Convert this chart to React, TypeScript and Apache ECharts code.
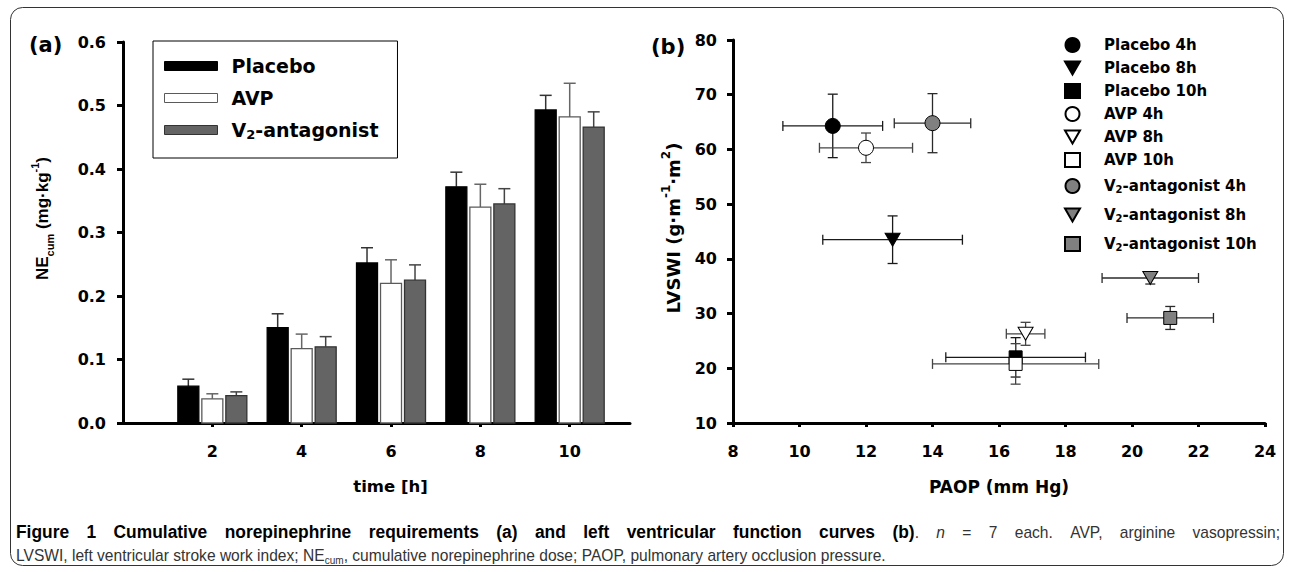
import React, { useEffect, useRef } from 'react';
import * as echarts from 'echarts';

// ---------- data: panel (a) ----------
const times = [2, 4, 6, 8, 10];
const timeTicks = [2, 4, 6, 8, 10];
const barGroups = ['Placebo', 'AVP', 'V2-antagonist'];
const placeboMean = [0.058, 0.150, 0.252, 0.372, 0.493];
const placeboSd = [0.011, 0.022, 0.024, 0.023, 0.023];
const avpMean = [0.038, 0.117, 0.220, 0.340, 0.482];
const avpSd = [0.008, 0.023, 0.037, 0.036, 0.053];
const v2Mean = [0.043, 0.120, 0.225, 0.345, 0.466];
const v2Sd = [0.006, 0.016, 0.024, 0.024, 0.024];

// ---------- data: panel (b) ----------
const scatterNames = [
  'Placebo 4h', 'Placebo 8h', 'Placebo 10h',
  'AVP 4h', 'AVP 8h', 'AVP 10h',
  'V2-antagonist 4h', 'V2-antagonist 8h', 'V2-antagonist 10h',
];
const paop = [11.0, 12.8, 16.5, 12.0, 16.8, 16.5, 14.0, 20.55, 21.15];
const paopSd = [1.5, 2.1, 2.1, 1.4, 0.58, 2.5, 1.15, 1.45, 1.3];
const lvswi = [64.3, 43.5, 22.0, 60.3, 26.3, 20.8, 64.8, 36.5, 29.2];
const lvswiSd = [5.8, 4.35, 3.6, 2.7, 2.1, 3.7, 5.4, 1.1, 2.1];

// ---------- caption ----------
const captionTitle = 'Figure 1 Cumulative norepinephrine requirements (a) and left ventricular function curves (b)';
const captionTail = ['n', '=', '7', 'each.', 'AVP,', 'arginine', 'vasopressin;'];
const captionLine2a = 'LVSWI, left ventricular stroke work index; NE';
const captionLine2sub = 'cum';
const captionLine2b = ', cumulative norepinephrine dose; PAOP, pulmonary artery occlusion pressure.';

// ---------- styles ----------
const FONT = 'DejaVu Sans, Liberation Sans, sans-serif';
const FONT_ARIAL = 'Liberation Sans, Arial, sans-serif';
const CAP_FONT = 'Liberation Sans, Arial, sans-serif';
const CAP_SIZE = 17;
const CAP_BOLD_SIZE = 19;
const LINE2_WIDTH = 870;
const LINE1_WIDTH = 1264;

const BAR_W = 21;
const BAR_GAP = 3;
const CAP = 6;
const barFill = ['#000000', '#ffffff', '#646464'];
const barStroke = ['#000000', '#5a5a5a', '#333333'];
const barErr = ['#333333', '#666666', '#444444'];

const markerFill = ['#000000', '#ffffff', '#808080'];
const markerErr = ['#1a1a1a', '#444444', '#2a2a2a'];
const TRI_DOWN = 'path://M0,0L16,0L8,14Z';
const markerSymbols = ['circle', TRI_DOWN, 'rect'];
const markerSizes: any[] = [15, [15, 13], 13];

function v2Rich(name: string) {
  return name.startsWith('V2') ? `{n|V}{s|2}{n|${name.slice(2)}}` : `{n|${name}}`;
}

function buildCaption(): any[] {
  const canvas = document.createElement('canvas');
  const ctx = canvas.getContext('2d') as CanvasRenderingContext2D;
  const sizeOf = (st: string) => (st === 'b' ? CAP_BOLD_SIZE : CAP_SIZE);
  const fontStr = (st: string, size: number) =>
    `${st === 'i' ? 'italic ' : ''}${st === 'b' ? 'bold ' : ''}${size}px ${CAP_FONT}`;
  const meas = (t: string, st: string, size = sizeOf(st)) => {
    ctx.font = fontStr(st, size);
    return ctx.measureText(t).width;
  };
  const w2 = meas(captionLine2a, 'r') + meas(captionLine2sub, 'r', 11) + meas(captionLine2b, 'r');
  const sx = LINE2_WIDTH / w2;

  const words: [string, string][][] = captionTitle.split(' ').map((w) => [[w, 'b']]);
  words[words.length - 1].push(['.', 'r']);
  captionTail.forEach((w) => words.push([[w, w === 'n' ? 'i' : 'r']]));
  const widths = words.map((parts) => parts.reduce((s, [t, st]) => s + meas(t, st) * sx, 0));
  const left = 16;
  const total = widths.reduce((a, b) => a + b, 0);
  const gap = (LINE1_WIDTH - total) / (words.length - 1);
  const els: any[] = [];
  let x = left;
  words.forEach((parts, wi) => {
    let px = x;
    parts.forEach(([t, st]) => {
      els.push({
        type: 'text',
        x: px,
        y: 532,
        scaleX: sx,
        style: {
          text: t,
          fontFamily: CAP_FONT,
          fontSize: sizeOf(st),
          fontWeight: st === 'b' ? 'bold' : 'normal',
          fontStyle: st === 'i' ? 'italic' : 'normal',
          fill: st === 'b' ? '#000' : '#333',
          verticalAlign: 'middle',
          align: 'left',
        },
      });
      px += meas(t, st) * sx;
    });
    x += widths[wi] + gap;
  });
  els.push({
    type: 'text',
    x: left,
    y: 555,
    scaleX: sx,
    style: {
      text: `{r|${captionLine2a}}{s|${captionLine2sub}}{r|${captionLine2b}}`,
      verticalAlign: 'middle',
      align: 'left',
      rich: {
        r: { fontFamily: CAP_FONT, fontSize: CAP_SIZE, lineHeight: 20, fill: '#333', color: '#333' },
        s: { fontFamily: CAP_FONT, fontSize: 11, lineHeight: 10, verticalAlign: 'bottom', fill: '#333', color: '#333' },
      },
    },
  });
  return els;
}

export default function App() {
  const ref = useRef<HTMLDivElement>(null);

  useEffect(() => {
    if (!ref.current) return;
    const chart = echarts.init(ref.current, undefined, { renderer: 'svg' });

    const means = [placeboMean, avpMean, v2Mean];
    const sds = [placeboSd, avpSd, v2Sd];

    const tickLabel = { fontFamily: FONT, fontWeight: 'bold', fontSize: 16, color: '#000' };
    const axisLine = { show: true, onZero: false, lineStyle: { color: '#000', width: 3 } };

    const barSeries = barGroups.map((g, gi) => ({
      type: 'custom',
      name: g,
      xAxisIndex: 0,
      yAxisIndex: 0,
      itemStyle: { color: barFill[gi], borderColor: barStroke[gi] },
      data: times.map((t, i) => [t, means[gi][i], sds[gi][i]]),
      encode: { x: 0, y: 1 },
      renderItem: (params: any, api: any) => {
        const t = api.value(0);
        const m = api.value(1);
        const sd = api.value(2);
        const base = api.coord([t, 0]);
        const top = api.coord([t, m]);
        const errTop = api.coord([t, m + sd]);
        const cx = base[0] + (gi - 1) * (BAR_W + BAR_GAP);
        const es = { stroke: barErr[gi], lineWidth: 1.5 };
        return {
          type: 'group',
          children: [
            { type: 'line', shape: { x1: cx, y1: top[1], x2: cx, y2: errTop[1] }, style: es },
            { type: 'line', shape: { x1: cx - CAP, y1: errTop[1], x2: cx + CAP, y2: errTop[1] }, style: es },
            {
              type: 'rect',
              shape: { x: cx - BAR_W / 2, y: top[1], width: BAR_W, height: base[1] - top[1] },
              style: { fill: barFill[gi], stroke: barStroke[gi], lineWidth: 1.3 },
            },
          ],
        };
      },
    }));

    const errSeries = {
      type: 'custom',
      name: 'errors',
      xAxisIndex: 1,
      yAxisIndex: 1,
      data: scatterNames.map((n, i) => [paop[i], lvswi[i], paopSd[i], lvswiSd[i], Math.floor(i / 3)]),
      encode: { x: 0, y: 1 },
      renderItem: (params: any, api: any) => {
        const x = api.value(0);
        const y = api.value(1);
        const xs = api.value(2);
        const ys = api.value(3);
        const gi = api.value(4);
        const c = api.coord([x, y]);
        const l = api.coord([x - xs, y]);
        const r = api.coord([x + xs, y]);
        const t = api.coord([x, y + ys]);
        const b = api.coord([x, y - ys]);
        const st = { stroke: markerErr[gi], lineWidth: 1.3 };
        const line = (x1: number, y1: number, x2: number, y2: number) => ({
          type: 'line',
          shape: { x1, y1, x2, y2 },
          style: st,
        });
        return {
          type: 'group',
          children: [
            line(l[0], c[1], r[0], c[1]),
            line(l[0], c[1] - 5, l[0], c[1] + 5),
            line(r[0], c[1] - 5, r[0], c[1] + 5),
            line(c[0], t[1], c[0], b[1]),
            line(c[0] - 5, t[1], c[0] + 5, t[1]),
            line(c[0] - 5, b[1], c[0] + 5, b[1]),
          ],
        };
      },
    };

    const scatterSeries = scatterNames.map((n, i) => ({
      type: 'scatter',
      name: n,
      xAxisIndex: 1,
      yAxisIndex: 1,
      symbol: markerSymbols[i % 3],
      symbolSize: markerSizes[i % 3],
      itemStyle: { color: markerFill[Math.floor(i / 3)], borderColor: '#000', borderWidth: 1, opacity: 1 },
      data: [[paop[i], lvswi[i]]],
    }));

    const option: any = {
      animation: false,
      backgroundColor: '#fff',
      grid: [
        { left: 123, top: 42, width: 507, height: 381 },
        { left: 733, top: 40, width: 532, height: 383 },
      ],
      xAxis: [
        {
          type: 'value',
          gridIndex: 0,
          min: 0,
          max: 11.35,
          interval: 2,
          splitLine: { show: false },
          axisLine,
          axisTick: { show: true, length: 4, lineStyle: { width: 3, color: '#000' }, customValues: timeTicks },
          axisLabel: { ...tickLabel, margin: 20, customValues: timeTicks, formatter: (v: number) => String(v) },
          name: 'time [h]',
          nameLocation: 'middle',
          nameGap: 55,
          nameTextStyle: { fontFamily: FONT, fontWeight: 'bold', fontSize: 16.5, color: '#000', padding: [0, 0, 0, 28] },
        },
        {
          type: 'value',
          gridIndex: 1,
          min: 8,
          max: 24,
          interval: 2,
          splitLine: { show: false },
          axisLine,
          axisTick: { show: true, length: 4, lineStyle: { width: 3, color: '#000' } },
          axisLabel: { ...tickLabel, margin: 20 },
          name: 'PAOP (mm Hg)',
          nameLocation: 'middle',
          nameGap: 55,
          nameTextStyle: { fontFamily: FONT, fontWeight: 'bold', fontSize: 17, color: '#000' },
        },
      ],
      yAxis: [
        {
          type: 'value',
          gridIndex: 0,
          min: 0,
          max: 0.6,
          interval: 0.1,
          splitLine: { show: false },
          axisLine,
          axisTick: { show: true, length: 6, lineStyle: { width: 3, color: '#000' } },
          axisLabel: { ...tickLabel, margin: 17, formatter: (v: number) => v.toFixed(1) },
          name: '{b|NE}{sub|cum}{b| (mg·kg}{sup|-1}{b|)}',
          nameLocation: 'middle',
          nameGap: 68,
          nameTextStyle: {
            padding: [0, 0, 0, 28],
            rich: {
              b: { fontFamily: FONT_ARIAL, fontWeight: 'bold', fontSize: 17, lineHeight: 26, color: '#000' },
              sub: { fontFamily: FONT_ARIAL, fontWeight: 'bold', fontSize: 11, lineHeight: 12, verticalAlign: 'bottom', color: '#000' },
              sup: { fontFamily: FONT_ARIAL, fontWeight: 'bold', fontSize: 11, lineHeight: 12, verticalAlign: 'top', color: '#000' },
            },
          },
        },
        {
          type: 'value',
          gridIndex: 1,
          min: 10,
          max: 80,
          interval: 10,
          splitLine: { show: false },
          axisLine,
          axisTick: { show: true, length: 6, lineStyle: { width: 3, color: '#000' } },
          axisLabel: { ...tickLabel, margin: 16 },
          name: '{b|LVSWI (g·m}{sup|-1}{b|·m}{sup|2}{b|)}',
          nameLocation: 'middle',
          nameGap: 47,
          nameTextStyle: {
            padding: [0, 0, 0, 7],
            rich: {
              b: { fontFamily: FONT, fontWeight: 'bold', fontSize: 18, lineHeight: 26, color: '#000' },
              sup: { fontFamily: FONT, fontWeight: 'bold', fontSize: 12, lineHeight: 12, verticalAlign: 'top', color: '#000' },
            },
          },
        },
      ],
      legend: [
        {
          show: true,
          orient: 'vertical',
          left: 153,
          top: 41,
          padding: [14, 19, 17, 11],
          borderColor: '#000',
          borderWidth: 1,
          icon: 'rect',
          itemWidth: 53,
          itemHeight: 9,
          itemGap: 10,
          selectedMode: false,
          data: barGroups.map((g, gi) => ({
            name: g,
            itemStyle: { color: barFill[gi], borderColor: barStroke[gi], borderWidth: 1 },
          })),
          formatter: v2Rich,
          textStyle: {
            padding: [0, 0, 0, 9],
            lineHeight: 22,
            rich: {
              n: { fontFamily: FONT, fontSize: 19, fontWeight: 'bold', lineHeight: 22, color: '#000' },
              s: { fontFamily: FONT, fontSize: 13, fontWeight: 'bold', lineHeight: 12, verticalAlign: 'bottom', color: '#000' },
            },
          },
        },
        {
          show: true,
          orient: 'vertical',
          left: 1064,
          top: 37,
          padding: 0,
          itemWidth: 15,
          itemHeight: 14,
          itemGap: 7,
          selectedMode: false,
          data: scatterNames.map((n) =>
            n.startsWith('V2') ? { name: n, textStyle: { padding: [3, 0, 3, 19] } } : { name: n }
          ),
          formatter: v2Rich,
          textStyle: {
            padding: [0, 0, 0, 19],
            lineHeight: 16,
            rich: {
              n: { fontFamily: FONT, fontSize: 15, fontWeight: 'bold', lineHeight: 16, color: '#000' },
              s: { fontFamily: FONT, fontSize: 10, fontWeight: 'bold', lineHeight: 10, verticalAlign: 'bottom', color: '#000' },
            },
          },
        },
      ],
      series: [...barSeries, errSeries, ...scatterSeries],
      graphic: [
        {
          type: 'rect',
          shape: { x: 10.5, y: 7.5, width: 1273, height: 558, r: 12 },
          style: { fill: 'none', stroke: '#333', lineWidth: 1 },
          silent: true,
        },
        {
          type: 'text',
          x: 29,
          y: 45,
          style: { text: '(a)', fontFamily: FONT, fontWeight: 'bold', fontSize: 21, fill: '#000', verticalAlign: 'middle' },
        },
        {
          type: 'text',
          x: 651,
          y: 47,
          style: { text: '(b)', fontFamily: FONT, fontWeight: 'bold', fontSize: 21, fill: '#000', verticalAlign: 'middle' },
        },
        ...buildCaption(),
      ],
    };

    chart.setOption(option);
    return () => chart.dispose();
  }, []);

  return (
    <div
      ref={ref}
      style={{ position: 'fixed', left: 0, top: 0, width: 1293, height: 572, background: '#fff' }}
    />
  );
}
